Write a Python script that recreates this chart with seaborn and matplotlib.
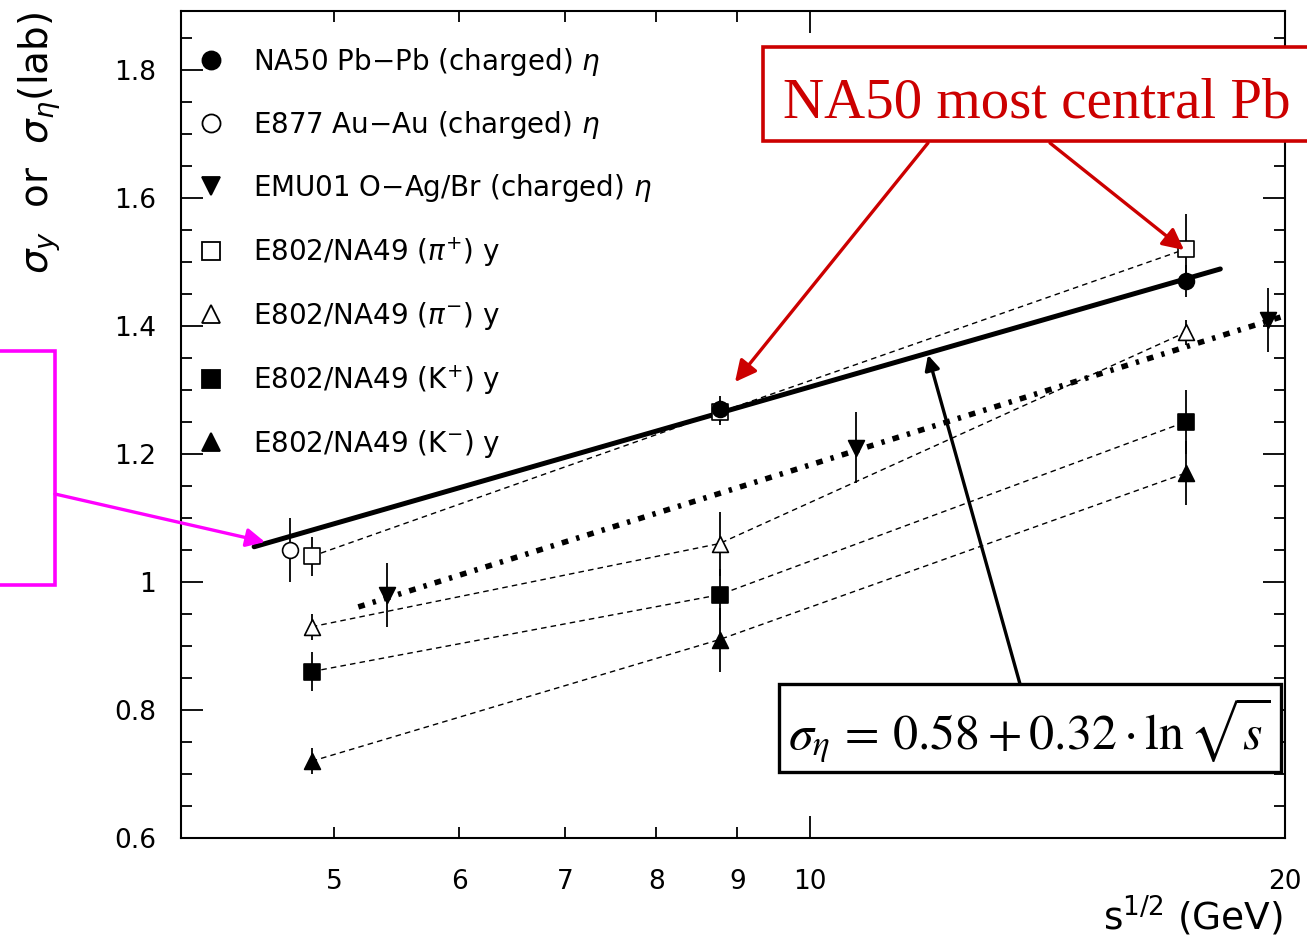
import matplotlib
matplotlib.use("Agg")
import matplotlib.pyplot as plt
import seaborn as sns
from matplotlib.lines import Line2D
from matplotlib.patches import Rectangle

# sqrt(s) in GeV and widths
na50_x = [8.77, 17.3]
na50_y = [1.27, 1.47]
na50_err = [0.02, 0.025]

e877_x = [4.69]
e877_y = [1.05]
e877_err = [0.05]

emu01_x = [5.4, 10.7, 19.5]
emu01_y = [0.98, 1.21, 1.41]
emu01_err = [0.05, 0.055, 0.05]

e802_x = [4.84, 8.77, 17.3]
pip_y = [1.04, 1.265, 1.52]
pip_err = [0.03, 0.02, 0.055]
pim_y = [0.93, 1.06, 1.39]
pim_err = [0.02, 0.05, 0.02]
kp_y = [0.86, 0.98, 1.25]
kp_err = [0.03, 0.04, 0.05]
km_y = [0.72, 0.91, 1.17]
km_err = [0.02, 0.05, 0.05]

# fit lines, end points
fit_x = [4.45, 18.2]
fit_y = [1.055, 1.489]
emu_fit_x = [5.18, 20.0]
emu_fit_y = [0.961, 1.416]

x_minor = [4, 5, 6, 7, 8, 9, 20]
x_minor_labels = ['', '5', '6', '7', '8', '9', '20']
y_major = [0.6, 0.8, 1.0, 1.2, 1.4, 1.6, 1.8]
y_major_labels = ['0.6', '0.8', '1', '1.2', '1.4', '1.6', '1.8']
y_minor = [0.6 + 0.05 * i for i in range(26)]

legend_labels = ['NA50 Pb\u2212Pb (charged) $\\eta$',
                 'E877 Au\u2212Au (charged) $\\eta$',
                 'EMU01 O\u2212Ag/Br (charged) $\\eta$',
                 'E802/NA49 ($\\pi^{+}$) y',
                 'E802/NA49 ($\\pi^{-}$) y',
                 'E802/NA49 (K$^{+}$) y',
                 'E802/NA49 (K$^{-}$) y']

W, H = 1307, 941


def fp(x, y):
    # figure pixel (from top-left) -> figure fraction
    return (x / W, 1 - y / H)


sns.set_theme(style='ticks')
plt.rcParams['font.family'] = ['DejaVu Sans']
plt.rcParams['mathtext.fontset'] = 'dejavusans'
for k in ['text.color', 'axes.labelcolor', 'xtick.color', 'ytick.color', 'axes.edgecolor']:
    plt.rcParams[k] = 'black'

fig = plt.figure(figsize=(W / 100, H / 100), dpi=100)
ax = fig.add_axes([181 / W, 1 - 838 / H, 1104 / W, 827 / H])
ax.set_xscale('log')

# fit lines
sns.lineplot(x=fit_x, y=fit_y, ax=ax, color='black', lw=3.6, zorder=3)
sns.lineplot(x=emu_fit_x, y=emu_fit_y, ax=ax, color='black', lw=4.0,
             linestyle=(0, (1.2, 1.5, 0.6, 1.5)), zorder=3)

# dashed lines joining E802/NA49 points
for ys in [pip_y, pim_y, kp_y, km_y]:
    sns.lineplot(x=e802_x, y=ys, ax=ax, color='black', lw=1.0,
                 linestyle=(0, (4, 3)), zorder=2)

series = [
    (na50_x, na50_y, na50_err, 'o', 'black'),
    (e877_x, e877_y, e877_err, 'o', 'white'),
    (emu01_x, emu01_y, emu01_err, 'v', 'black'),
    (e802_x, pip_y, pip_err, 's', 'white'),
    (e802_x, pim_y, pim_err, '^', 'white'),
    (e802_x, kp_y, kp_err, 's', 'black'),
    (e802_x, km_y, km_err, '^', 'black'),
]
for i, (xs, ys, es, m, fc) in enumerate(series):
    ax.errorbar(xs, ys, yerr=es, fmt='none', ecolor='black', elinewidth=1.3,
                capsize=0, zorder=4)
    # NA50 circles on top of the pi+ square at 8.77
    z = 7 if i == 0 else 5
    sns.scatterplot(x=xs, y=ys, ax=ax, marker=m, s=130, color=fc,
                    edgecolor='black', linewidth=1.2, zorder=z)

handles = [Line2D([], [], ls='none', marker=m, ms=13, mfc=fc, mec='black', mew=1.3)
           for _, _, _, m, fc in series]
ax.legend(handles, legend_labels, loc='upper left', bbox_to_anchor=(0.017, 0.958),
          frameon=False, fontsize=20, handlelength=0.8, handletextpad=1.1,
          labelspacing=1.12, borderpad=0, borderaxespad=0)

ax.set_xlim(4, 20)
ax.set_ylim(0.6, 1.892)
ax.set_xticks([10], labels=['10'])
ax.set_xticks(x_minor, labels=x_minor_labels, minor=True)
ax.set_yticks(y_major, labels=y_major_labels)
ax.set_yticks(y_minor, minor=True)
ax.tick_params(which='both', direction='in', top=True, right=True, width=1.3,
               colors='black', labelsize=19)
ax.tick_params(which='major', length=16)
ax.tick_params(which='minor', length=8)
ax.tick_params(axis='y', which='both', pad=18)
ax.tick_params(axis='x', which='both', pad=22)
for sp in ax.spines.values():
    sp.set_linewidth(1.5)
    sp.set_color('black')

ax.set_xlabel('')
ax.set_ylabel('')
fig.text(*fp(1283, 930), 's$^{1/2}$ (GeV)', fontsize=27, ha='right', va='baseline')
fig.text(*fp(40, 12), '$\\sigma_{y}$  or  $\\sigma_{\\eta}$(lab)', fontsize=28,
         rotation=90, ha='center', va='top')

# red annotation box, running off the right edge
fig.add_artist(Rectangle(fp(763, 141), 700 / W, 94 / H, transform=fig.transFigure,
                         fill=True, facecolor='white', edgecolor='#cc0000', lw=2.6, zorder=10))
fig.text(*fp(783, 117), 'NA50 most central Pb', family='Liberation Serif', fontsize=41,
         color='#cc0000', ha='left', va='baseline', zorder=11)
for start, tip in [((928, 143), (735, 382)), ((1050, 143), (1184, 250))]:
    ax.annotate('', xy=fp(*tip), xycoords='figure fraction', xytext=fp(*start),
                textcoords='figure fraction', annotation_clip=False, zorder=9,
                arrowprops=dict(arrowstyle='-|>', color='#cc0000', lw=2.4,
                                mutation_scale=32, shrinkA=0, shrinkB=0))

# magenta box, cut off at the left edge
fig.add_artist(Rectangle(fp(-200, 585), 255 / W, 234 / H, transform=fig.transFigure,
                         fill=False, edgecolor='#ff00ff', lw=2.6, zorder=10))
ax.annotate('', xy=fp(265, 542), xycoords='figure fraction', xytext=fp(55, 494),
            textcoords='figure fraction', annotation_clip=False, zorder=9,
            arrowprops=dict(arrowstyle='-|>', color='#ff00ff', lw=2.4,
                            mutation_scale=28, shrinkA=0, shrinkB=0))

# formula box
fig.add_artist(Rectangle(fp(779, 772), 502 / W, 88 / H, transform=fig.transFigure,
                         facecolor='white', edgecolor='black', lw=2.4, zorder=10))
fig.text(*fp(1029, 730), '$\\sigma_{\\eta}\\, =\\, 0.58 + 0.32\\cdot\\ln\\sqrt{s}$',
         fontsize=36, math_fontfamily='stix', ha='center', va='center', zorder=11)
ax.annotate('', xy=fp(928, 355), xycoords='figure fraction', xytext=fp(1020, 684),
            textcoords='figure fraction', annotation_clip=False, zorder=9,
            arrowprops=dict(arrowstyle='-|>', color='black', lw=2.4,
                            mutation_scale=22, shrinkA=0, shrinkB=0))

fig.savefig('out.png', dpi=100)
